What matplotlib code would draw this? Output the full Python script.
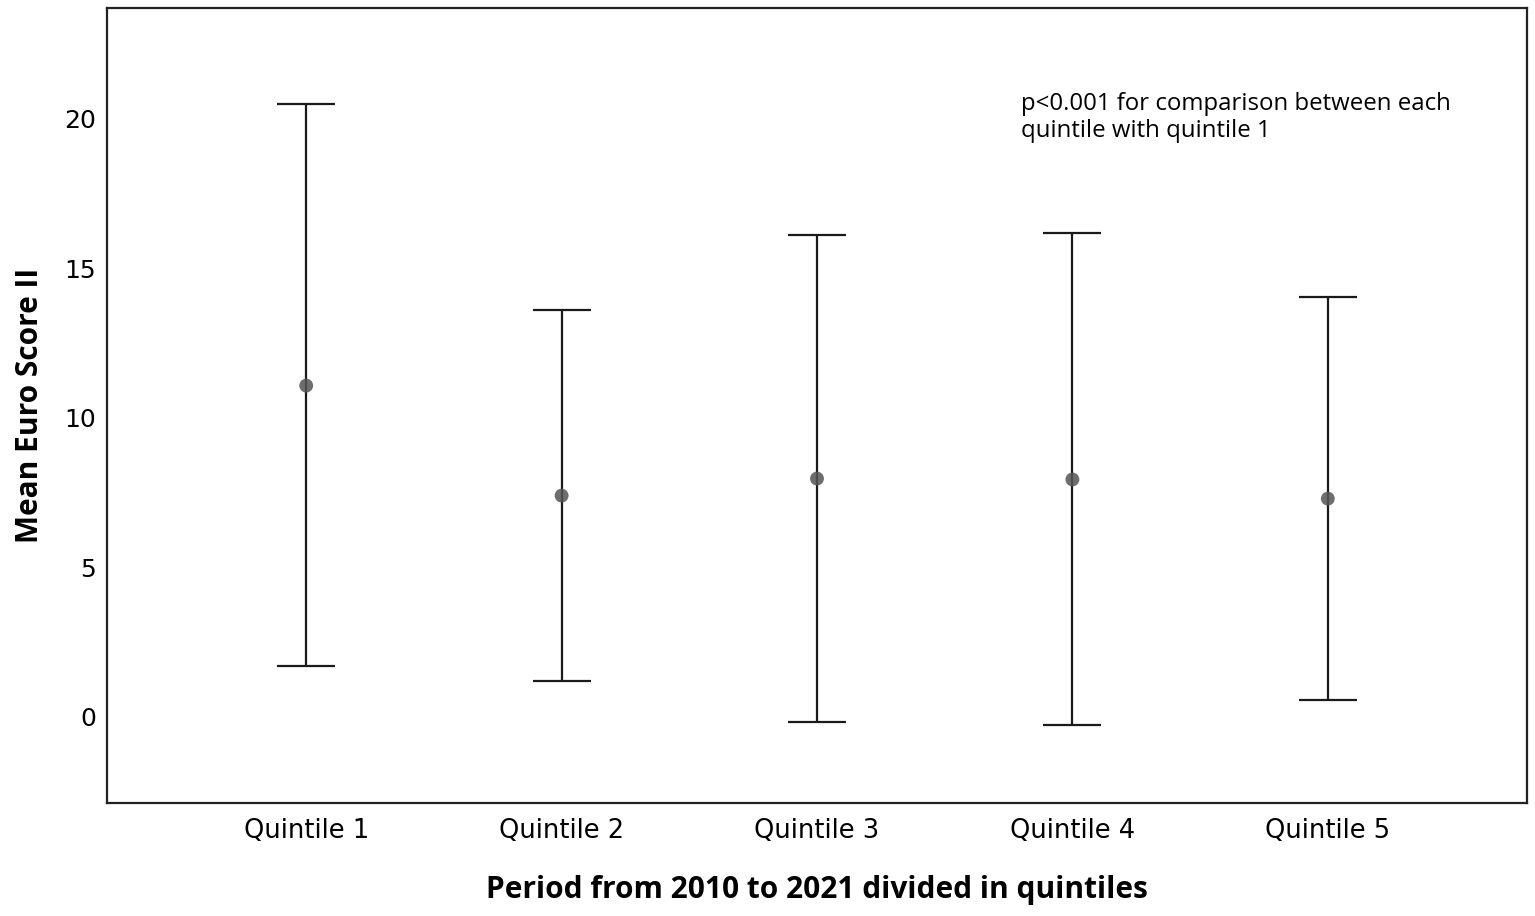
import matplotlib
matplotlib.use("Agg")
import matplotlib.pyplot as plt

categories = ["Quintile 1", "Quintile 2", "Quintile 3", "Quintile 4", "Quintile 5"]
means = [11.08, 7.40, 7.97, 7.94, 7.30]
upper = [20.50, 13.62, 16.12, 16.19, 14.05]
lower = [1.69, 1.19, -0.18, -0.28, 0.55]

plt.rcParams['font.family'] = ['DejaVu Sans']

fig = plt.figure(figsize=(15.35, 9.16), dpi=100)
ax = fig.add_axes([0.0697, 0.1234, 0.9251, 0.8679])

x = list(range(1, len(categories) + 1))
yerr = [[m - l for m, l in zip(means, lower)], [u - m for m, u in zip(means, upper)]]
ax.errorbar(x, means, yerr=yerr, fmt='none', ecolor='#1a1a1a', elinewidth=1.6,
            capsize=21, capthick=1.6)
ax.scatter(x, means, s=100, color='#555555', alpha=0.85, zorder=3, edgecolors='none')

ax.set_xlim(0.22, 5.78)
ax.set_ylim(-2.88, 23.71)
ax.set_xticks(x)
ax.set_xticklabels(categories, fontsize=18.5)
ax.set_yticks([0, 5, 10, 15, 20])
ax.set_yticklabels(['0', '5', '10', '15', '20'], fontsize=18)
ax.tick_params(length=0)
ax.tick_params(axis='x', pad=11)
ax.tick_params(axis='y', pad=8)

for s in ax.spines.values():
    s.set_linewidth(1.6)
    s.set_color('#222222')

ax.set_xlabel('Period from 2010 to 2021 divided in quintiles', fontsize=21.5,
              fontweight='bold', labelpad=22, family='Open Sans')
ax.set_ylabel('Mean Euro Score II', fontsize=21.5, fontweight='bold', labelpad=14,
              family='Open Sans')

ax.text(0.644, 0.894, 'p<0.001 for comparison between each\nquintile with quintile 1',
        transform=ax.transAxes, fontsize=17.3, va='top', ha='left', linespacing=1.13,
        family='Open Sans')

fig.savefig('out.png', dpi=100)
